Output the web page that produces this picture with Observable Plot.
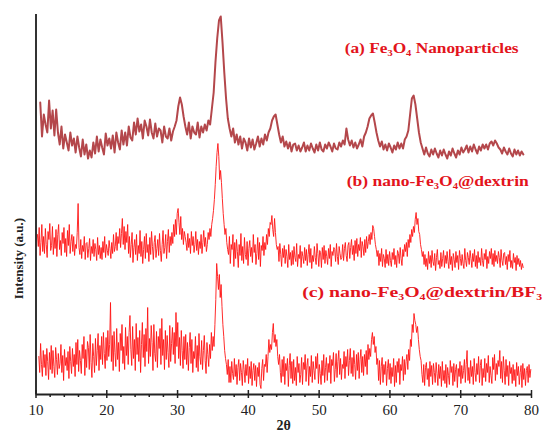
<!DOCTYPE html>
<html>
<head>
<meta charset="utf-8">
<script src="https://cdn.jsdelivr.net/npm/d3@7"></script>
<script src="https://cdn.jsdelivr.net/npm/@observablehq/plot@0.6"></script>
<style>
  html, body { margin: 0; padding: 0; background: #fff; }
  #chart svg { display: block; }
</style>
</head>
<body>
<div id="chart"></div>
<script>
// 2θ scan grids (start angle and step of each scan)
const scanA = { start: 10.6, step: 0.25 };
const scanB = { start: 10.2, step: 0.125 };
const scanC = { start: 10.4, step: 0.125 };

// (a) Fe3O4 nanoparticles – intensity (a.u.)
const intensA = [
  292,258,280,270, 262,294,266,284, 259,285,262,250, 268,246,260,252,
  244,262,249,256, 242,258,247,238, 255,240,250,236, 244,237,252,241,
  258,243,255,247, 240,261,249,256, 246,259,242,262, 252,245,264,250,
  262,249,268,257, 254,272,260,276, 263,270,256,274, 268,259,275,262,
  256,271,258,266, 264,252,268,258, 256,266,254,263, 268,274,288,297,
  290,278,268,260, 272,256,268,262, 260,272,257,268, 262,270,264,274,
  270,286,302,332, 356,374,378,352, 322,296,276,266, 258,266,252,260,
  250,258,246,256, 252,244,256,247, 255,245,251,258, 248,256,250,260,
  254,262,266,274, 278,280,270,260, 252,258,248,253, 246,252,243,250,
  251,244,249,243, 247,252,243,249, 244,251,246,242, 250,244,252,245,
  243,250,246,252, 248,243,251,246, 245,252,248,254, 250,266,255,249,
  254,247,252,246, 250,255,248,258, 262,268,276,279, 281,272,262,254,
  248,253,245,250, 244,251,247,242, 249,245,252,246, 251,246,255,258,
  264,280,296,299, 290,276,262,252, 246,240,247,241, 238,245,240,246,
  241,237,244,239, 245,240,236,243, 239,246,241,237, 244,240,247,242,
  245,249,242,248, 243,250,245,241, 248,244,250,246, 250,245,251,253,
  249,254,251,247, 245,241,247,243, 240,246,241,238, 245,240,244,239,
  243,240
];

// (b) nano-Fe3O4@dextrin
const intensB = [
  160,148,167,139,152,170,143,158, 141,166,150,137,163,155,171,144,
  149,168,140,157,146,165,138,160, 170,145,154,139,162,151,167,142,
  156,138,164,149,170,141,153,160, 143,158,139,150,146,162,191,147,
  140,155,136,149,143,158,135,151, 152,137,146,156,134,148,141,155,
  138,151,145,134,157,140,149,136, 147,135,153,142,158,137,150,144,
  139,154,146,136,152,141,160,143, 148,162,144,158,151,166,147,161,
  176,150,168,145,163,152,170,141, 158,137,150,162,132,147,155,140,
  160,134,149,141,164,138,153,131, 145,158,136,161,142,150,133,157,
  140,163,148,135,152,159,137,146, 155,139,161,144,133,150,164,141,
  147,160,136,153,165,142,158,149, 162,151,170,158,175,160,181,186,
  172,160,178,155,166,150,163,158, 152,144,161,147,156,141,163,149,
  158,142,150,163,144,155,140,153, 146,160,141,152,164,148,157,143,
  150,162,155,166,158,170,176,184, 195,210,228,242,251,238,215,224,
  212,196,181,170,160,166,152,145, 140,158,131,150,145,160,128,152,
  136,155,143,127,150,139,161,134, 148,131,157,140,135,153,129,146,
  154,138,147,132,160,142,150,130, 141,157,135,152,128,149,144,158,
  139,152,145,160,150,166,158,172, 170,179,165,158,176,162,150,145,
  148,133,151,140,128,146,137,149, 131,145,138,127,150,135,142,129,
  144,130,148,137,133,151,128,140, 136,149,127,143,138,131,147,134,
  145,129,140,150,132,146,126,139, 133,148,137,130,151,141,128,144,
  142,127,147,135,149,131,144,138, 130,146,136,150,128,143,139,147,
  145,133,151,138,130,148,141,135, 137,150,134,146,152,139,133,149,
  152,136,147,155,140,149,134,154, 141,156,138,150,144,157,137,153,
  148,139,155,142,158,146,153,160, 150,162,155,169,166,158,150,145,
  138,144,129,141,133,146,128,140, 136,127,145,131,140,129,143,134,
  128,142,135,146,130,139,127,144, 141,131,147,136,129,145,138,150,
  143,152,138,155,147,160,152,165, 158,168,162,175,182,170,176,163,
  160,150,145,138,143,130,140,128, 136,125,143,131,139,127,144,133,
  129,141,124,137,145,130,134,126, 142,128,136,144,127,139,131,143,
  133,126,145,130,138,124,141,135, 127,143,132,139,125,144,136,129,
  140,131,126,146,134,128,142,137, 130,144,136,127,141,133,145,128,
  139,126,143,132,137,129,146,134, 128,141,135,145,126,138,131,143,
  136,146,130,141,128,144,133,139, 131,143,137,127,145,134,129,141,
  142,130,138,125,140,133,144,127, 134,126,141,132,137,124,139,130,
  136,128,134,125,131,127
];

// (c) nano-Fe3O4@dextrin/BF3
const intensC = [
  38,22,51,30,18,44,27,40, 19,46,33,15,42,25,49,21, 44,28,17,47,35,20,41,26,
  31,50,22,39,14,45,29,37, 24,43,16,48,33,21,46,28, 40,18,52,30,55,23,44,34,
  21,50,36,58,19,45,27,53, 47,25,60,32,17,51,38,22, 56,29,44,61,24,49,35,58,
  30,62,41,26,57,34,64,38, 50,92,33,59,24,63,42,28, 66,35,52,23,61,44,70,31,
  48,25,67,39,58,30,62,79, 45,29,68,36,55,24,71,40, 57,33,64,22,50,72,37,60,
  28,66,43,87,31,56,38,69, 52,24,70,41,33,63,27,58, 46,66,30,76,39,55,25,64,
  35,59,42,27,69,33,51,67, 40,62,31,82,48,72,36,57, 29,64,44,26,58,35,60,30,
  52,24,47,62,31,55,22,43, 36,58,27,49,23,61,38,30, 54,25,44,59,34,21,52,40,
  28,50,36,62,44,58,48,70, 95,131,118,105,120,97,110,88, 70,58,44,36,30,20,35,12,
  28,12,33,21,15,36,18,30, 10,27,35,14,31,22,9,34, 25,12,30,19,36,11,28,16,
  33,9,24,31,14,29,8,27, 18,32,10,6,26,35,14,30, 28,40,22,38,55,42,50,45,
  62,71,52,60,48,55,38,30, 40,22,12,35,18,38,10,31, 24,36,8,29,41,16,33,11,
  35,14,27,9,38,22,31,12, 20,37,10,32,25,40,13,29, 36,9,28,18,39,12,33,24,
  15,38,26,41,11,30,21,10, 34,19,40,12,27,37,14,31, 22,39,11,35,29,42,13,25,
  41,17,33,44,20,36,15,30, 26,43,16,38,28,45,19,34, 46,21,37,18,44,30,15,40,
  24,42,16,35,45,22,38,19, 40,28,44,20,50,35,46,38, 55,62,50,58,42,48,30,36,
  14,34,10,28,37,12,30,20, 33,9,26,35,15,31,11,27, 18,36,8,29,12,33,22,36,
  10,30,24,38,14,35,20,33, 40,25,45,34,55,48,70,62, 81,74,70,62,68,55,45,38,
  34,20,12,30,9,27,32,15, 26,8,33,18,29,10,31,22, 12,32,21,9,30,16,28,8,
  33,14,24,11,30,7,27,19, 10,34,22,28,9,31,13,25, 30,7,26,18,33,11,29,16,
  24,35,12,30,44,14,27,11, 34,18,28,10,36,22,13,31, 20,38,12,29,35,9,26,17,
  36,13,31,22,39,12,28,19, 11,37,25,40,14,31,20,34, 28,44,16,33,12,38,24,10,
  35,18,29,9,33,21,27,11, 30,14,25,8,32,19,28,10, 22,29,7,31,15,26,9,24,
  28,12,30,17,25
];

const majorTicks = [10, 20, 30, 40, 50, 60, 70, 80];
const minorTicks = [12,14,16,18,22,24,26,28,32,34,36,38,42,44,46,48,52,54,56,58,62,64,66,68,72,74,76,78];

const seriesLabels = ["(a) Fe₃O₄ Nanoparticles", "(b) nano-Fe₃O₄@dextrin", "(c) nano-Fe₃O₄@dextrin/BF₃"];
const xLabel = "2θ";
const yLabel = "Intensity (a.u.)";

const toRows = (scan, vals) => vals.map((v, i) => ({ t: scan.start + i * scan.step, v }));
const rowsA = toRows(scanA, intensA);
const rowsB = toRows(scanB, intensB);
const rowsC = toRows(scanC, intensC);

const colA = "#b4474b";
const colBC = "#ff1414";
const labelCol = "#e3141c";
const serif = "Liberation Serif, Times New Roman, DejaVu Serif, serif";

const chart = Plot.plot({
  width: 544,
  height: 432,
  marginLeft: 35.5,
  marginRight: 13,
  marginTop: 14,
  marginBottom: 38,
  x: { domain: [10, 80], axis: null },
  y: { domain: [0, 380], axis: null },
  style: { background: "#fff" },
  marks: [
    Plot.line(rowsA, { x: "t", y: "v", stroke: colA, strokeWidth: 2 }),
    Plot.line(rowsB, { x: "t", y: "v", stroke: colBC, strokeWidth: 0.9 }),
    Plot.line(rowsC, { x: "t", y: "v", stroke: colBC, strokeWidth: 0.9 }),
    Plot.ruleY([0], { stroke: "#222", strokeWidth: 2 }),
    Plot.ruleX([10], { y1: 0, y2: 380, stroke: "#333", strokeWidth: 2 }),
    Plot.ruleX(majorTicks, { y1: -4, y2: 4, stroke: "#222", strokeWidth: 1.5 }),
    Plot.ruleX(minorTicks, { y1: -3, y2: 0, stroke: "#222", strokeWidth: 1.5 }),
    Plot.text(majorTicks, { x: d => d, frameAnchor: "bottom", lineAnchor: "middle", dy: 16, text: d => String(d), fontFamily: serif, fontSize: 15, fill: "#222" }),
    Plot.text([xLabel], { frameAnchor: "bottom", lineAnchor: "middle", textAnchor: "middle", dy: 31, fontFamily: serif, fontSize: 14, fontWeight: "bold", fill: "#222" }),
    Plot.text([yLabel], { frameAnchor: "left", textAnchor: "middle", lineAnchor: "middle", dx: -17, dy: 54, rotate: -90, fontFamily: serif, fontSize: 13, fontWeight: "bold", fill: "#222" }),
    Plot.text([seriesLabels[0]], { x: 53.6, y: 346, textAnchor: "start", lineAnchor: "middle", fontFamily: serif, fontSize: 15, fontWeight: "bold", fill: labelCol, className: "lbl-a" }),
    Plot.text([seriesLabels[1]], { x: 53.9, y: 213, textAnchor: "start", lineAnchor: "middle", fontFamily: serif, fontSize: 15, fontWeight: "bold", fill: labelCol, className: "lbl-b" }),
    Plot.text([seriesLabels[2]], { x: 47.6, y: 102, textAnchor: "start", lineAnchor: "middle", fontFamily: serif, fontSize: 15, fontWeight: "bold", fill: labelCol, className: "lbl-c" })
  ]
});
// stretch series labels to the widths they occupy in the reference
const svg = d3.select(chart);
[["lbl-a", 174], ["lbl-b", 182], ["lbl-c", 240]].forEach(([cls, w]) => {
  svg.selectAll("." + cls + " text").attr("textLength", w).attr("lengthAdjust", "spacingAndGlyphs");
});
document.getElementById("chart").appendChild(chart);
</script>
</body>
</html>
